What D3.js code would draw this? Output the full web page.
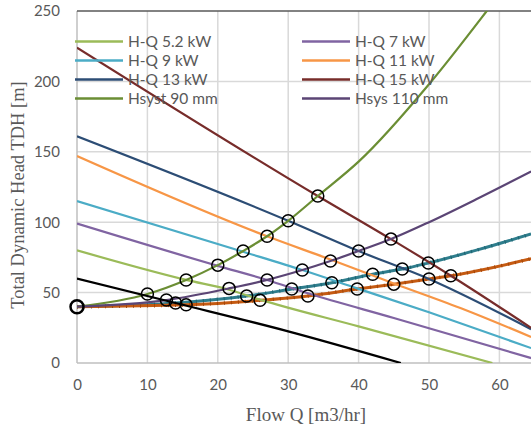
<!DOCTYPE html>
<html>
<head>
<meta charset="utf-8">
<script src="https://cdn.jsdelivr.net/npm/d3@7"></script>
<style>
  body { margin: 0; background: #fff; }
  svg { display: block; }
</style>
</head>
<body>
<div id="svganchor"></div>
<script>
let width = 531;
let height = 430;
let margin = ({top: 11, left: 77, bottom: 363});

// Pump H-Q curves [Q, H]
let hq52 = [[0, 80], [15.5, 59], [21.6, 52], [26, 45], [40, 26], [59, 0]];
let hq7 = [[0, 99], [20, 69], [27, 59], [32.8, 49.5], [45, 32], [64.5, 3.5]];
let hq9 = [[0, 115], [23.6, 79], [32, 66], [39.8, 53], [50, 36], [64.5, 10.6]];
let hq11 = [[0, 147], [27, 90], [36, 73.5], [45, 56.5], [55, 38], [64.5, 18.5]];
let hq13 = [[0, 161], [30, 101], [40, 79.5], [50, 59.7], [64.5, 24]];
let hq15 = [[0, 224], [34.2, 118.6], [44.6, 88], [53.1, 62], [64.5, 25]];
let hqBlack = [[0, 60], [14, 42.6], [30, 22.5], [46, 0]];

// System curves [Q, H]
let hsys90 = [[0, 40], [10, 49], [15.5, 59], [20, 69.5], [23.6, 79.5], [27, 90], [30, 101], [34.2, 118.6], [40, 143], [50, 198], [58.2, 250], [62, 275]];
let hsys110 = [[0, 40], [12.7, 44.7], [21.6, 53], [27, 59], [32, 66], [36, 72.4], [40, 79.5], [44.6, 88], [50, 100], [57, 117], [64.5, 136]];
let hsysTeal = [[0, 40], [14, 42.6], [24.1, 47.6], [30.5, 52.5], [36.2, 57], [42, 63], [46.2, 66.7], [49.9, 71], [57, 80.5], [64.5, 91.6]];
let hsysOrange = [[0, 40], [15.5, 41.3], [26, 44.5], [32.8, 47.6], [39.8, 52.5], [45, 56], [50, 59.7], [53.1, 62], [64.5, 74]];

// Operating points (intersections)
let opPoints = [
  [10, 49], [12.7, 44.7], [14, 42.6], [15.5, 41.3], [15.5, 59], [20, 69.5], [23.6, 79.5], [27, 90], [30, 101], [34.2, 118.6],
  [21.6, 53], [27, 59], [32, 66], [36, 72.4], [40, 79.5], [44.6, 88],
  [24.1, 47.6], [30.5, 52.5], [36.2, 57], [42, 63], [46.2, 66.7], [49.9, 71],
  [26, 44.5], [32.8, 47.6], [39.8, 52.5], [45, 56], [50, 59.7], [53.1, 62]
];

let xTicks = [0, 10, 20, 30, 40, 50, 60];
let yTicks = [0, 50, 100, 150, 200, 250];

let series = [
  {name: "H-Q 5.2 kW", data: hq52, color: "#9BBB59", legend: [0, 0]},
  {name: "H-Q 7 kW", data: hq7, color: "#8064A2", legend: [1, 0]},
  {name: "H-Q 9 kW", data: hq9, color: "#4BACC6", legend: [0, 1]},
  {name: "H-Q 11 kW", data: hq11, color: "#F79646", legend: [1, 1]},
  {name: "H-Q 13 kW", data: hq13, color: "#2C4D75", legend: [0, 2]},
  {name: "H-Q 15 kW", data: hq15, color: "#772C2A", legend: [1, 2]},
  {name: "Hsyst 90 mm", data: hsys90, color: "#6B8E34", legend: [0, 3]},
  {name: "Hsys 110 mm", data: hsys110, color: "#5B4575", legend: [1, 3]},
  {name: "", data: hqBlack, color: "#000000"}
];

let svg = d3.select("#svganchor")
    .append("svg")
    .attr("width", width)
    .attr("height", height);

let xScale = d3.scaleLinear().domain([0, 70]).range([margin.left, margin.left + 70 * 7.04]);
let yScale = d3.scaleLinear().domain([0, 250]).range([margin.bottom, margin.top]);

// Gridlines
svg.append("g")
    .selectAll("line.gx")
    .data(xTicks.filter(d => d > 0))
    .join("line")
    .attr("x1", d => xScale(d)).attr("x2", d => xScale(d))
    .attr("y1", yScale(250)).attr("y2", yScale(0))
    .attr("stroke", "#D9D9D9").attr("stroke-width", 1.5);

svg.append("g")
    .selectAll("line.gy")
    .data(yTicks.filter(d => d > 0 && d < 250))
    .join("line")
    .attr("x1", xScale(0)).attr("x2", width)
    .attr("y1", d => yScale(d)).attr("y2", d => yScale(d))
    .attr("stroke", "#D9D9D9").attr("stroke-width", 1.5);

// Axis lines
svg.append("line")
    .attr("x1", xScale(0)).attr("x2", width)
    .attr("y1", yScale(0)).attr("y2", yScale(0))
    .attr("stroke", "#BFBFBF").attr("stroke-width", 1.5);
svg.append("line")
    .attr("x1", xScale(0)).attr("x2", xScale(0))
    .attr("y1", yScale(0)).attr("y2", yScale(250))
    .attr("stroke", "#BFBFBF").attr("stroke-width", 1.5);
svg.append("line")
    .attr("x1", xScale(0)).attr("x2", width)
    .attr("y1", yScale(250)).attr("y2", yScale(250))
    .attr("stroke", "#595959").attr("stroke-width", 1.5);

// Tick labels
let xAxis = d3.axisBottom(xScale).tickValues(xTicks).tickSize(0).tickPadding(16);
let gx = svg.append("g").attr("transform", "translate(0," + yScale(0) + ")").call(xAxis);
let yAxis = d3.axisLeft(yScale).tickValues(yTicks).tickSize(0).tickPadding(17);
let gy = svg.append("g").attr("transform", "translate(" + xScale(0) + ",0)").call(yAxis);
[gx, gy].forEach(g => {
    g.select(".domain").remove();
    g.selectAll("text")
        .attr("font-family", "Lato, 'Open Sans', sans-serif")
        .attr("font-size", 15)
        .attr("fill", "#595959");
});

// Axis titles
svg.append("text")
    .attr("x", 306).attr("y", 421)
    .attr("text-anchor", "middle")
    .attr("font-family", "'Liberation Serif', 'Times New Roman', serif")
    .attr("font-size", 19)
    .attr("fill", "#595959")
    .text("Flow Q [m3/hr]");
svg.append("text")
    .attr("transform", "translate(24," + 195 + ") rotate(-90)")
    .attr("text-anchor", "middle")
    .attr("font-family", "'Liberation Serif', 'Times New Roman', serif")
    .attr("font-size", 18.5)
    .attr("fill", "#595959")
    .text("Total Dynamic Head TDH [m]");

// Clip to plot area
svg.append("clipPath").attr("id", "plotclip")
    .append("rect")
    .attr("x", xScale(0)).attr("y", yScale(250))
    .attr("width", width - xScale(0)).attr("height", yScale(0) - yScale(250));

let plot = svg.append("g").attr("clip-path", "url(#plotclip)");

let line = d3.line()
    .x(d => xScale(d[0]))
    .y(d => yScale(d[1]))
    .curve(d3.curveMonotoneX);

// Thick system curves with tiny dot markers
[[hsysTeal, "#2E7D8C", "#1F6572"], [hsysOrange, "#C55A11", "#A5470A"]].forEach(s => {
    plot.append("path").datum(s[0])
        .attr("d", line).attr("fill", "none")
        .attr("stroke", s[1]).attr("stroke-width", 3);
    plot.append("path").datum(s[0])
        .attr("d", line).attr("fill", "none")
        .attr("stroke", s[2]).attr("stroke-width", 3.5)
        .attr("stroke-dasharray", "1,6");
});

series.forEach(s => {
    plot.append("path").datum(s.data)
        .attr("d", line).attr("fill", "none")
        .attr("stroke", s.color).attr("stroke-width", 2.2);
});

// Operating point circles
plot.selectAll("circle.op")
    .data(opPoints)
    .join("circle")
    .attr("cx", d => xScale(d[0]))
    .attr("cy", d => yScale(d[1]))
    .attr("r", 6)
    .attr("fill", "none")
    .attr("stroke", "#000")
    .attr("stroke-width", 1.5);

svg.append("circle")
    .attr("cx", xScale(0)).attr("cy", yScale(40))
    .attr("r", 6.5)
    .attr("fill", "none")
    .attr("stroke", "#000")
    .attr("stroke-width", 2.5);

// Legend
let legendX = [75, 302];
let legendY = [41.5, 60.5, 79.5, 98.5];
let legend = svg.append("g");
series.filter(s => s.legend).forEach(s => {
    let lx = legendX[s.legend[0]];
    let ly = legendY[s.legend[1]];
    legend.append("line")
        .attr("x1", lx).attr("x2", lx + 48)
        .attr("y1", ly).attr("y2", ly)
        .attr("stroke", s.color).attr("stroke-width", 2.5);
    legend.append("text")
        .attr("x", lx + 53).attr("y", ly)
        .attr("dy", "0.35em")
        .attr("font-family", "Lato, 'Open Sans', sans-serif")
        .attr("font-size", 15.5)
        .attr("fill", "#595959")
        .text(s.name);
});
</script>
</body>
</html>
